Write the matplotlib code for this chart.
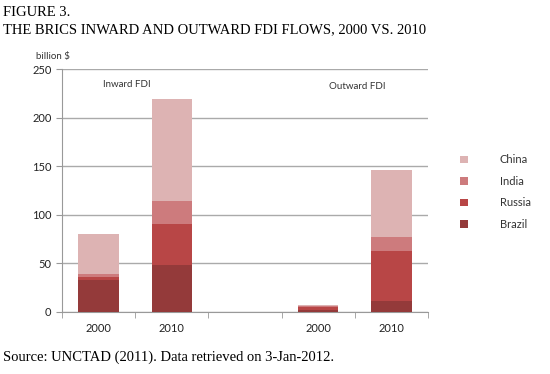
import matplotlib
matplotlib.use("Agg")
import matplotlib.pyplot as plt
import numpy as np

categories = ["2000", "2010", "", "2000", "2010"]
countries = ["Brazil", "Russia", "India", "China"]
brazil = [32.8, 48.4, 0, 2.3, 11.5]
russia = [2.7, 41.7, 0, 3.2, 51.3]
india = [3.6, 24.2, 0, 0.5, 14.7]
china = [40.7, 105.0, 0, 0.9, 68.5]
colors = ["#943a3a", "#b84646", "#cd7b7d", "#ddb3b3"]
yticks = [0, 50, 100, 150, 200, 250]

plt.rcParams['font.family'] = ['Lato', 'DejaVu Sans']
fig = plt.figure(figsize=(5.5, 3.74), dpi=100)
ax = fig.add_axes([0.1127, 0.1658, 0.6655, 0.6497])

x = np.arange(len(categories))
bottom = np.zeros(len(categories))
handles = []
for name, vals, c in zip(countries, [brazil, russia, india, china], colors):
    vals = np.array(vals)
    mask = vals > 0
    h = ax.bar(x[mask], vals[mask], 0.55, bottom=bottom[mask], color=c, label=name, zorder=3)
    handles.append(h)
    bottom += vals

ax.set_xlim(-0.5, 4.5)
ax.set_ylim(0, 250)
ax.set_yticks(yticks)
ax.set_yticklabels([str(t) for t in yticks], fontsize=8, color="#222222")
ax.set_xticks(x)
ax.set_xticklabels(categories, fontsize=8, color="#222222")
ax.set_xticks(np.arange(-0.5, 5.0, 1.0), minor=True)
ax.tick_params(axis='x', which='major', length=0, pad=8)
ax.tick_params(axis='x', which='minor', length=4, color="#999999", direction='out')
ax.tick_params(axis='y', length=4, color="#999999", direction='out')
ax.yaxis.grid(True, color="#aaaaaa", linewidth=1, zorder=0)
for s in ["top", "right"]:
    ax.spines[s].set_visible(False)
for s in ["left", "bottom"]:
    ax.spines[s].set_color("#999999")

ax.text(0.38, 234, "Inward FDI", fontsize=7, ha="center", va="center", color="#333333")
ax.text(3.53, 232, "Outward FDI", fontsize=7, ha="center", va="center", color="#333333")

leg = ax.legend(handles[::-1], [countries[i] for i in range(3, -1, -1)],
                loc="upper left", bbox_to_anchor=(1.06, 0.69), frameon=False,
                fontsize=8, handlelength=0.7, handleheight=0.7, handletextpad=2.9,
                labelspacing=0.95, labelcolor="#333333")

fig.text(62/550 - 0.047, 1 - 57/374, "billion $", fontsize=7, ha="left", va="center", color="#333333")
fig.text(0.006, 1 - 12/374, "FIGURE 3.", family="Liberation Serif", fontsize=10.5, va="center")
fig.text(0.006, 1 - 30/374, "THE BRICS INWARD AND OUTWARD FDI FLOWS, 2000 VS. 2010",
         family="Liberation Serif", fontsize=10.5, va="center")
fig.text(0.006, 1 - 357/374, "Source: UNCTAD (2011). Data retrieved on 3-Jan-2012.",
         family="Liberation Serif", fontsize=10.5, va="center")

fig.savefig("out.png", dpi=100)
